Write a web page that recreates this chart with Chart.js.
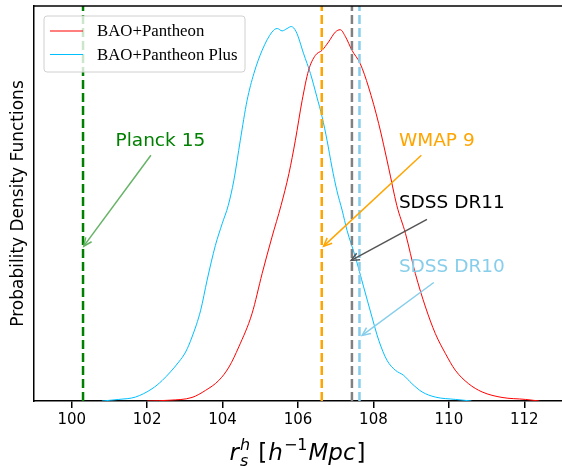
<!DOCTYPE html>
<html>
<head>
<meta charset="utf-8">
<script src="https://cdn.jsdelivr.net/npm/chart.js@4/dist/chart.umd.min.js"></script>
<style>
  html, body { margin: 0; padding: 0; background: #fff; }
  #wrap { width: 562px; height: 466px; position: relative; }
</style>
</head>
<body>
<div id="wrap"><canvas id="c" width="562" height="466"></canvas></div>
<script>
// ---- data ----
const seriesNames = ['BAO+Pantheon', 'BAO+Pantheon Plus'];

const pantheonX = [102.0, 102.6, 103.19, 103.55, 103.90, 104.17, 104.43, 104.78, 105.05, 105.31, 105.55, 105.76, 105.93, 106.11, 106.28, 106.46, 106.64, 106.81, 106.99, 107.12, 107.26, 107.43, 107.65, 107.87, 108.14, 108.40, 108.62, 108.85, 109.11, 109.38, 109.64, 109.91, 110.17, 110.52, 110.88, 111.41, 112.03, 112.4];
const pantheonY = [0, 0.002, 0.009, 0.027, 0.052, 0.086, 0.137, 0.221, 0.323, 0.415, 0.495, 0.576, 0.660, 0.761, 0.837, 0.875, 0.888, 0.909, 0.934, 0.940, 0.922, 0.888, 0.854, 0.795, 0.702, 0.592, 0.495, 0.424, 0.323, 0.238, 0.171, 0.120, 0.078, 0.044, 0.023, 0.009, 0.004, 0];

const plusX = [100.8, 101.25, 101.69, 102.13, 102.40, 102.84, 103.02, 103.19, 103.42, 103.59, 103.81, 103.99, 104.15, 104.30, 104.47, 104.65, 104.83, 105.05, 105.31, 105.45, 105.58, 105.71, 105.82, 105.95, 106.15, 106.33, 106.50, 106.64, 106.77, 106.90, 107.03, 107.17, 107.30, 107.52, 107.74, 107.96, 108.14, 108.36, 108.58, 108.80, 109.02, 109.29, 109.64, 110.17, 110.6];
const plusY = [0, 0.004, 0.010, 0.031, 0.052, 0.099, 0.124, 0.162, 0.230, 0.306, 0.394, 0.449, 0.495, 0.559, 0.660, 0.761, 0.829, 0.888, 0.934, 0.943, 0.937, 0.943, 0.948, 0.935, 0.879, 0.829, 0.770, 0.719, 0.660, 0.592, 0.533, 0.483, 0.432, 0.365, 0.289, 0.213, 0.154, 0.103, 0.078, 0.065, 0.044, 0.023, 0.010, 0.004, 0];

const refNames  = ['Planck 15', 'WMAP 9', 'SDSS DR11', 'SDSS DR10'];
const refValues = [100.3, 106.63, 107.43, 107.63];

const xTicks = [100, 102, 104, 106, 108, 110, 112];

// ---- styling / annotation placement (not data) ----
const seriesColors = ['#ff0000', '#00bfff'];
const refColors   = ['#008000', '#ffa500', '#808080', '#87ceeb'];
const arrowColors = ['#66b366', '#ffa500', '#555555', '#87ceeb'];
const textColors  = ['#008000', '#ffa500', '#000000', '#87ceeb'];
// text center (x,y), arrow tail (x,y), arrow head (x,y) in data coordinates
const annot = [
  { text: [102.35, 0.657], tail: [102.10, 0.622], head: [100.32, 0.392] },
  { text: [109.68, 0.658], tail: [109.27, 0.622], head: [106.68, 0.392] },
  { text: [110.08, 0.500], tail: [109.42, 0.460], head: [107.41, 0.356] },
  { text: [110.08, 0.339], tail: [109.60, 0.300], head: [107.70, 0.166] },
];

const toPts = (xs, ys) => xs.map((x, i) => ({ x, y: ys[i] }));

const datasets = [
  { label: seriesNames[0], data: toPts(pantheonX, pantheonY), borderColor: seriesColors[0],
    borderWidth: 1, pointRadius: 0, fill: false, cubicInterpolationMode: 'monotone', order: 2 },
  { label: seriesNames[1], data: toPts(plusX, plusY), borderColor: seriesColors[1],
    borderWidth: 1, pointRadius: 0, fill: false, cubicInterpolationMode: 'monotone', order: 2 },
];
refValues.forEach((v, i) => {
  datasets.push({ label: refNames[i], data: [{ x: v, y: 0 }, { x: v, y: 1 }],
    borderColor: refColors[i], borderWidth: 2.5, borderDash: [9, 4], pointRadius: 0,
    fill: false, order: 1 });
});

const decor = {
  id: 'decor',
  afterDraw(chart) {
    const { ctx, chartArea: a, scales: { x, y } } = chart;
    ctx.save();
    // top spine
    ctx.strokeStyle = '#000'; ctx.lineWidth = 1.5;
    ctx.beginPath(); ctx.moveTo(a.left, a.top); ctx.lineTo(a.right, a.top); ctx.stroke();

    // annotations
    annot.forEach((an, i) => {
      const tx = x.getPixelForValue(an.tail[0]), ty = y.getPixelForValue(an.tail[1]);
      const hx = x.getPixelForValue(an.head[0]), hy = y.getPixelForValue(an.head[1]);
      ctx.strokeStyle = arrowColors[i]; ctx.lineWidth = 1.5;
      ctx.beginPath(); ctx.moveTo(tx, ty); ctx.lineTo(hx, hy); ctx.stroke();
      const ang = Math.atan2(ty - hy, tx - hx);
      const L = 9, w = 0.42;
      ctx.beginPath();
      ctx.moveTo(hx + L * Math.cos(ang + w), hy + L * Math.sin(ang + w));
      ctx.lineTo(hx, hy);
      ctx.lineTo(hx + L * Math.cos(ang - w), hy + L * Math.sin(ang - w));
      ctx.stroke();
      ctx.fillStyle = textColors[i];
      ctx.font = "18.5px 'DejaVu Sans'";
      ctx.textAlign = 'center'; ctx.textBaseline = 'middle';
      ctx.fillText(refNames[i], x.getPixelForValue(an.text[0]), y.getPixelForValue(an.text[1]));
    });

    // legend
    const bx = 44, by = 16, bw = 201, bh = 56, r = 3;
    ctx.fillStyle = 'rgba(255,255,255,0.8)';
    ctx.strokeStyle = '#d0d0d0'; ctx.lineWidth = 1;
    ctx.beginPath();
    ctx.moveTo(bx + r, by); ctx.lineTo(bx + bw - r, by); ctx.arcTo(bx + bw, by, bx + bw, by + r, r);
    ctx.lineTo(bx + bw, by + bh - r); ctx.arcTo(bx + bw, by + bh, bx + bw - r, by + bh, r);
    ctx.lineTo(bx + r, by + bh); ctx.arcTo(bx, by + bh, bx, by + bh - r, r);
    ctx.lineTo(bx, by + r); ctx.arcTo(bx, by, bx + r, by, r);
    ctx.closePath(); ctx.fill(); ctx.stroke();
    const rows = [31, 54.5];
    ctx.font = "16.8px 'Liberation Serif'";
    ctx.textAlign = 'left'; ctx.textBaseline = 'middle';
    seriesNames.forEach((n, i) => {
      ctx.strokeStyle = seriesColors[i]; ctx.lineWidth = 1.2;
      ctx.beginPath(); ctx.moveTo(50, rows[i]); ctx.lineTo(83, rows[i]); ctx.stroke();
      ctx.fillStyle = '#000';
      ctx.fillText(n, 97, rows[i] + 1);
    });

    // y title
    ctx.save();
    ctx.translate(19, (a.top + a.bottom) / 2);
    ctx.rotate(-Math.PI / 2);
    ctx.font = "17px 'DejaVu Sans'";
    ctx.fillStyle = '#000'; ctx.textAlign = 'center'; ctx.textBaseline = 'middle';
    ctx.fillText('Probability Density Functions', 0, 0);
    ctx.restore();

    // x title: r_s^h [h^{-1} Mpc]
    const base = 460, big = 23, small = 16;
    const it = s => `italic ${s}px 'DejaVu Sans'`, up = s => `${s}px 'DejaVu Sans'`;
    const pieces = [
      { t: 'r', f: it(big), dy: 0 },
      { t: 'h', f: it(small), dy: -10, stackWith: 's' },
      { t: ' [', f: up(big), dy: 0 },
      { t: 'h', f: it(big), dy: 0 },
      { t: '\u22121', f: up(small), dy: -10 },
      { t: 'Mpc', f: it(big), dy: 0 },
      { t: ']', f: up(big), dy: 0 },
    ];
    let total = 0;
    const widths = pieces.map(p => { ctx.font = p.f; let w = ctx.measureText(p.t).width;
      if (p.stackWith) w = Math.max(w, ctx.measureText(p.stackWith).width); total += w + 1; return w; });
    let cx = (a.left + a.right) / 2 - total / 2;
    ctx.fillStyle = '#000'; ctx.textAlign = 'left'; ctx.textBaseline = 'alphabetic';
    pieces.forEach((p, i) => {
      ctx.font = p.f;
      ctx.fillText(p.t, cx, base + p.dy);
      if (p.stackWith) ctx.fillText(p.stackWith, cx, base + 6);
      cx += widths[i] + 1;
    });
    ctx.restore();
  }
};

new Chart(document.getElementById('c'), {
  type: 'line',
  data: { datasets },
  options: {
    responsive: false,
    animation: false,
    events: [],
    layout: { padding: { top: 6, right: 0, left: 0, bottom: 0 } },
    plugins: { legend: { display: false }, tooltip: { enabled: false } },
    scales: {
      x: {
        type: 'linear', min: 99, max: 113,
        afterBuildTicks: s => { s.ticks = xTicks.map(v => ({ value: v })); },
        afterFit: s => { s.height = 65; },
        ticks: { color: '#000', font: { family: 'DejaVu Sans', size: 15 }, padding: 3, maxRotation: 0 },
        grid: { display: true, drawOnChartArea: false, drawTicks: true, tickLength: 7, color: '#000', lineWidth: 1.5 },
        border: { display: true, color: '#000', width: 1.5 },
      },
      y: {
        min: 0, max: 1,
        afterFit: s => { s.width = 34; },
        ticks: { display: false },
        grid: { display: false, drawTicks: false },
        border: { display: true, color: '#000', width: 1.5 },
      }
    }
  },
  plugins: [decor]
});
</script>
</body>
</html>
